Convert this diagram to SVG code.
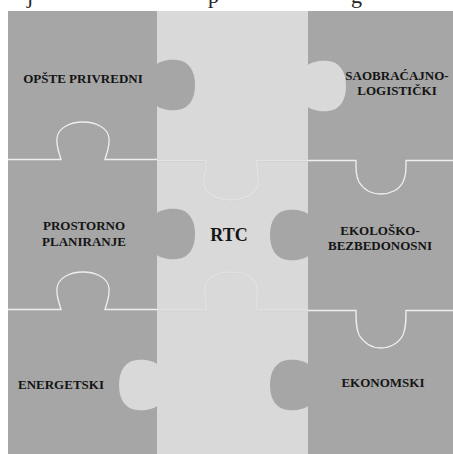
<svg xmlns="http://www.w3.org/2000/svg" width="453" height="454" viewBox="0 0 453 454">
  <style>
    .dark { fill: #a6a6a6; }
    .light { fill: #d9d9d9; }
    .label { font-family: "Liberation Serif", "Times New Roman", serif; font-weight: bold; font-size: 13px; fill: #141414; text-anchor: middle; }
    .big { font-size: 18px; }
    .cap { font-family: "Liberation Serif", "Times New Roman", serif; font-size: 22px; fill: #222; }
    .seam { fill: none; stroke: #efefef; stroke-width: 1.3; }
    .seam-soft { fill: none; stroke: #e4e4e4; stroke-width: 1.1; }
    .seam-shade { fill: none; stroke: #cdcdcd; stroke-width: 1; opacity: 0.5; }
  </style>
  <defs>
    <!-- puzzle tab, base on x=0, bulging toward +x -->
    <path id="tab" d="M0,-21 C4,-24 12,-26 20,-25 C32,-24 38,-14 38,0 C38,14 32,24 20,25 C12,26 4,24 0,21 Z"/>
  </defs>

  <rect width="453" height="454" fill="#ffffff"/>

  <!-- caption line above the puzzle, mostly cut off at the top edge -->
  <g id="caption">
    <text class="cap" x="27" y="2.5">j</text>
    <text class="cap" x="208" y="2.5">p</text>
    <text class="cap" x="351" y="2.5">g</text>
  </g>

  <!-- row 1 -->
  <g id="saobracajno">
    <rect class="dark" x="308" y="11" width="145" height="149"/>
    <text class="label" x="397" y="80">SAOBRAĆAJNO-</text>
    <text class="label" x="397" y="95">LOGISTIČKI</text>
  </g>
  <g id="center-top">
    <rect class="light" x="157" y="11" width="151" height="149"/>
    <use href="#tab" class="light" transform="translate(308,86)"/>
  </g>
  <g id="opste-privredni">
    <rect class="dark" x="8" y="11" width="149" height="149"/>
    <use href="#tab" class="dark" transform="translate(157,85)"/>
    <text class="label" x="83" y="83">OPŠTE PRIVREDNI</text>
  </g>

  <!-- row 2 -->
  <g id="rtc">
    <rect class="light" x="157" y="160" width="151" height="150"/>
    <text class="label big" x="229" y="241">RTC</text>
  </g>
  <g id="prostorno-planiranje">
    <rect class="dark" x="8" y="160" width="149" height="150"/>
    <use href="#tab" class="dark" transform="translate(157,234)"/>
    <text class="label" x="84" y="230">PROSTORNO</text>
    <text class="label" x="84" y="246">PLANIRANJE</text>
  </g>
  <g id="ekolosko-bezbedonosni">
    <rect class="dark" x="308" y="160" width="145" height="150"/>
    <use href="#tab" class="dark" transform="translate(308,235) scale(-1,1)"/>
    <text class="label" x="380" y="235">EKOLOŠKO-</text>
    <text class="label" x="380" y="250">BEZBEDONOSNI</text>
  </g>

  <!-- row 3 -->
  <g id="energetski">
    <rect class="dark" x="8" y="310" width="149" height="144"/>
    <text class="label" x="61" y="389">ENERGETSKI</text>
  </g>
  <g id="center-bottom">
    <rect class="light" x="157" y="310" width="151" height="144"/>
    <use href="#tab" class="light" transform="translate(157,385) scale(-1,1)"/>
  </g>
  <g id="ekonomski">
    <rect class="dark" x="308" y="310" width="145" height="144"/>
    <use href="#tab" class="dark" transform="translate(308,385) scale(-1,1)"/>
    <text class="label" x="383" y="387">EKONOMSKI</text>
  </g>

  <!-- seams between rows, with the interlocking knobs -->
  <g id="connectors">
    <!-- row 1 / row 2 -->
    <path class="seam" d="M8,159.5 H61 C59,152 56,146 57,138 C58,128 70,122 83,122 C96,122 108,128 109,138 C110,146 107,152 105,159.5 H157"/>
    <path class="seam-shade" d="M157,161.5 H205 C206,171 203,177 204,185 C205,195 218,201 231,201 C244,201 257,195 258,185 C259,177 256,171 257,161.5 H307"/>
    <path class="seam-soft" d="M157,160.5 H206 C207,170 203,176 204,184 C205,194 218,200 231,200 C244,200 257,194 258,184 C259,176 256,170 257,160.5 H307"/>
    <path class="seam" d="M308,160.5 H356 C356,170 356,176 359,182 C364,190 372,194 381,194 C390,194 399,190 403,182 C406,176 406,170 406,160.5 H453"/>

    <!-- row 2 / row 3 -->
    <path class="seam" d="M8,309.5 H61 C59,302 56,296 57,288 C58,278 70,272 83,272 C96,272 108,278 109,288 C110,296 107,302 105,309.5 H157"/>
    <path class="seam-shade" d="M157,311 H206 C207,303 204,297 205,289 C206,279 218,273 231,273 C244,273 256,279 257,289 C258,297 256,303 257,311 H307"/>
    <path class="seam-soft" d="M157,310 H206 C207,302 204,296 205,288 C206,278 218,272 231,272 C244,272 256,278 257,288 C258,296 256,302 257,310 H307"/>
    <path class="seam" d="M308,310.5 H356 C356,321 356,328 359,335 C364,343 372,348 381,348 C390,348 399,343 403,335 C406,328 406,321 406,310.5 H453"/>
  </g>
</svg>
